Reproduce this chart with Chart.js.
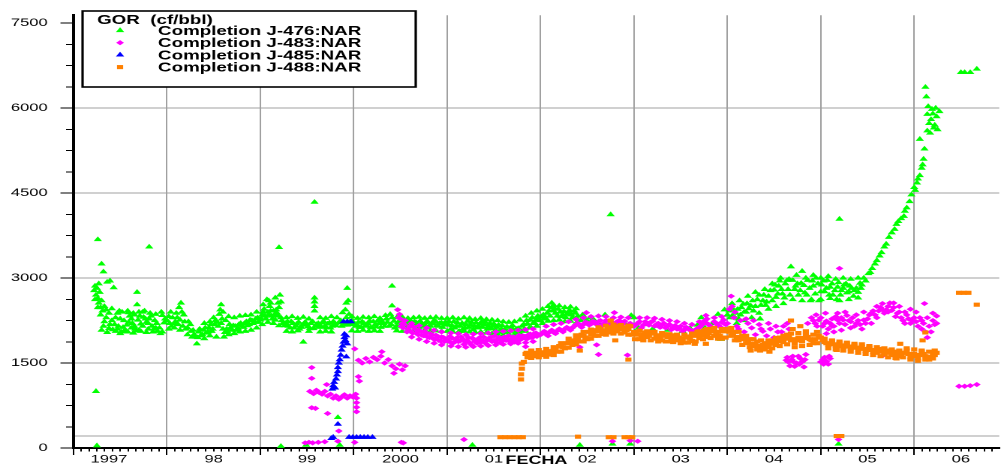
<!DOCTYPE html>
<html>
<head>
<meta charset="utf-8">
<script src="https://cdn.jsdelivr.net/npm/chart.js@4.4.1/dist/chart.umd.min.js"></script>
<style>
  html, body { margin: 0; padding: 0; background: #fff; }
  /* the original plot is stretched 1.5x horizontally */
  #gorChart { display: block; width: 1004px !important; height: 468px !important; }
</style>
</head>
<body>
<canvas id="gorChart" width="669" height="468"></canvas>
<script>
// ejes
const xMin = 1997, xMax = 2006.91;
const yMin = 0, yMax = 7640;
const xLabelText = ['1997', '98', '99', '2000', '01', '02', '03', '04', '05', '06'];
const xLabelPos = [1997.38, 1998.5, 1999.5, 2000.5, 2001.5, 2002.5, 2003.5, 2004.5, 2005.5, 2006.5];
const yLabelVals = [0, 1500, 3000, 4500, 6000, 7500];
const yMinorStep = 375;
const yRefLine = 210;
const legendTitle = 'GOR  (cf/bbl)';
const seriesNames = ['Completion J-476:NAR', 'Completion J-483:NAR', 'Completion J-485:NAR', 'Completion J-488:NAR'];
const seriesColors = ['#00ff00', '#ff00ff', '#0000ff', '#ff8000'];

// [fecha (año decimal), GOR]
const j476 = [
  [1997.24,1000],[1997.25,40],[1997.26,3680],[1997.30,3250],[1997.32,3110],
  [1997.22,2780],[1997.23,2860],[1997.24,2700],[1997.25,2820],[1997.26,2640],[1997.27,2900],[1997.28,2750],[1997.30,2600],
  [1997.36,2930],[1997.39,2950],[1997.43,2830],[1997.23,2620],[1997.27,2560],[1997.29,2350],[1997.26,2480],
  [1997.29,2480],[1997.31,2420],[1997.33,2500],[1997.35,2440],[1997.38,2380],[1997.41,2460],[1997.47,2380],[1997.49,2420],
  [1997.30,2080],[1997.33,2230],[1997.36,2040],[1997.39,2180],[1997.42,2090],[1997.45,2300],[1997.45,2060],[1997.48,2150],
  [1997.51,2050],[1997.54,2250],[1997.55,2080],[1997.57,2170],[1997.59,2390],[1997.60,2330],[1997.62,2120],[1997.63,2200],
  [1997.65,2350],[1997.66,2100],[1997.68,2750],[1997.68,2530],[1997.69,2260],[1997.70,2080],[1997.72,2190],[1997.74,2400],
  [1997.75,2310],[1997.78,2220],[1997.80,2100],[1997.81,2280],[1997.81,3550],[1997.84,2150],[1997.87,2250],[1997.88,2120],
  [1997.90,2060],[1997.93,2020],[1997.95,2340],[1997.97,2210],
  [1997.32,2150],[1997.35,2300],[1997.38,2110],[1997.41,2250],[1997.44,2180],[1997.47,2100],[1997.50,2280],[1997.53,2130],
  [1997.56,2060],[1997.59,2220],[1997.62,2280],[1997.65,2150],[1997.68,2070],[1997.71,2330],[1997.74,2150],[1997.77,2280],
  [1997.80,2200],[1997.83,2330],[1997.86,2100],[1997.89,2200],[1997.92,2120],[1997.95,2050],[1997.98,2280],
  [1997.52,2400],[1997.58,2420],[1997.64,2380],[1997.70,2400],[1997.76,2420],[1997.82,2380],[1997.88,2360],[1997.94,2400],
  [1997.50,2020],[1997.58,2050],[1997.64,2030],[1997.72,2060],[1997.78,2040],[1997.85,2050],
  [1998.00,2250],[1998.03,2200],[1998.06,2300],[1998.09,2230],[1998.12,2180],[1998.13,2480],[1998.15,2560],[1998.16,2400],
  [1998.17,2150],[1998.20,2100],[1998.23,2230],[1998.26,2060],[1998.29,2000],[1998.31,1960],[1998.32,1840],[1998.34,2050],
  [1998.36,1980],[1998.39,2080],[1998.42,2030],[1998.45,2120],[1998.48,2060],[1998.50,2300],[1998.51,2180],[1998.53,1960],
  [1998.54,2220],[1998.55,2150],[1998.56,2360],[1998.57,2440],[1998.58,2530],[1998.59,2280],[1998.60,2400],[1998.61,1960],
  [1998.62,2040],[1998.63,2250],[1998.64,2100],[1998.67,2180],[1998.70,2080],[1998.73,2150],[1998.76,2110],[1998.79,2200],
  [1998.82,2130],[1998.85,2230],[1998.88,2180],[1998.91,2250],[1998.94,2220],[1998.97,2300],
  [1998.02,2320],[1998.05,2150],[1998.08,2200],[1998.11,2300],[1998.14,2260],[1998.19,2230],[1998.22,2120],[1998.25,2180],
  [1998.28,2080],[1998.33,1950],[1998.35,2100],[1998.38,2000],[1998.41,2120],[1998.44,2050],[1998.47,2180],[1998.49,2100],
  [1998.52,2250],[1998.58,2200],[1998.60,2100],[1998.65,2050],[1998.68,2120],[1998.71,2160],[1998.74,2080],[1998.77,2180],
  [1998.80,2150],[1998.83,2200],[1998.86,2160],[1998.89,2260],[1998.92,2200],[1998.95,2280],[1998.98,2220],
  [1998.04,2400],[1998.10,2380],[1998.18,2350],[1998.40,2200],[1998.46,2230],[1998.66,2320],[1998.72,2300],[1998.78,2330],
  [1998.84,2340],[1998.90,2350],[1998.96,2400],
  [1998.02,2100],[1998.08,2120],[1998.14,2080],[1998.22,2000],[1998.27,1960],[1998.40,1930],[1998.46,1980],[1998.66,2000],
  [1998.72,2020],[1998.78,2050],[1998.84,2060],[1998.90,2080],[1998.96,2120],
  [1999.00,2260],[1999.02,2350],[1999.04,2450],[1999.06,2280],[1999.07,2620],[1999.08,2400],[1999.09,2600],[1999.10,2500],
  [1999.12,2330],[1999.14,2420],[1999.16,2260],[1999.16,2650],[1999.18,2380],[1999.20,2480],[1999.20,3540],[1999.21,2700],
  [1999.22,2580],[1999.22,2300],[1999.22,30],[1999.24,2200],[1999.27,2200],[1999.30,2150],[1999.33,2230],[1999.36,2120],
  [1999.39,2190],[1999.42,2100],[1999.45,2170],[1999.46,1870],[1999.48,2220],[1999.49,50],[1999.51,2140],[1999.54,2200],
  [1999.57,2110],[1999.58,2650],[1999.58,2580],[1999.58,2500],[1999.58,2420],[1999.58,4340],[1999.60,2180],[1999.63,2130],
  [1999.66,2210],[1999.69,2150],[1999.72,2190],[1999.75,2120],[1999.78,2230],[1999.81,2160],[1999.82,2300],[1999.83,540],
  [1999.84,2210],[1999.85,50],[1999.87,2150],[1999.88,2390],[1999.90,2200],[1999.91,2440],[1999.92,2560],[1999.93,2820],
  [1999.93,2170],[1999.94,2600],[1999.95,2360],[1999.96,2230],[1999.99,2180],
  [1999.01,2280],[1999.03,2400],[1999.05,2330],[1999.09,2350],[1999.11,2420],[1999.13,2280],[1999.15,2350],[1999.17,2440],
  [1999.19,2330],[1999.23,2250],[1999.26,2160],[1999.29,2230],[1999.32,2120],[1999.35,2200],[1999.38,2150],[1999.41,2220],
  [1999.44,2130],[1999.47,2200],[1999.50,2170],[1999.53,2110],[1999.56,2230],[1999.59,2150],[1999.62,2200],[1999.65,2140],
  [1999.68,2230],[1999.71,2120],[1999.74,2210],[1999.77,2150],[1999.80,2200],[1999.86,2250],[1999.89,2170],[1999.92,2300],
  [1999.95,2200],[1999.98,2250],
  [1999.03,2530],[1999.11,2560],[1999.19,2560],[1999.28,2300],[1999.34,2320],[1999.40,2290],[1999.46,2310],[1999.52,2280],
  [1999.64,2300],[1999.70,2290],[1999.76,2320],[1999.98,2320],
  [1999.02,2180],[1999.08,2220],[1999.14,2200],[1999.20,2160],[1999.28,2060],[1999.34,2050],[1999.40,2070],[1999.52,2060],
  [1999.64,2050],[1999.70,2060],[1999.76,2050],[1999.98,2070],
  [2000.02,2150],[2000.05,2220],[2000.08,2130],[2000.11,2200],[2000.14,2160],[2000.17,2240],[2000.20,2120],[2000.23,2180],
  [2000.26,2250],[2000.29,2130],[2000.32,2200],[2000.34,2340],[2000.35,2280],[2000.38,2150],[2000.39,2360],[2000.41,2300],
  [2000.41,2510],[2000.41,2860],[2000.44,2120],[2000.47,2210],[2000.50,2160],[2000.53,2250],[2000.56,2180],[2000.59,2220],
  [2000.62,2140],[2000.65,2230],[2000.68,2170],[2000.71,2240],[2000.74,2150],[2000.77,2210],[2000.80,2120],[2000.83,2190],
  [2000.86,2250],[2000.89,2160],[2000.92,2200],[2000.95,2130],[2000.98,2220],
  [2000.00,2200],[2000.03,2180],[2000.06,2130],[2000.09,2230],[2000.12,2150],[2000.15,2200],[2000.18,2130],[2000.21,2230],
  [2000.24,2140],[2000.27,2200],[2000.30,2230],[2000.33,2150],[2000.36,2220],[2000.40,2180],[2000.43,2240],[2000.46,2150],
  [2000.49,2230],[2000.52,2140],[2000.55,2210],[2000.58,2150],[2000.61,2240],[2000.64,2160],[2000.67,2210],[2000.70,2130],
  [2000.73,2200],[2000.76,2170],[2000.79,2230],[2000.82,2150],[2000.85,2200],[2000.88,2230],[2000.91,2150],[2000.94,2210],
  [2000.97,2170],
  [2000.04,2290],[2000.10,2310],[2000.16,2300],[2000.22,2320],[2000.28,2290],[2000.46,2300],[2000.52,2310],[2000.58,2290],
  [2000.64,2300],[2000.70,2310],[2000.76,2290],[2000.82,2300],[2000.88,2310],[2000.94,2290],
  [2000.04,2060],[2000.10,2080],[2000.16,2060],[2000.22,2070],[2000.28,2060],[2000.46,2070],[2000.52,2060],[2000.58,2080],
  [2000.64,2060],[2000.70,2070],[2000.76,2080],[2000.82,2060],[2000.88,2070],[2000.94,2060],
  [2001.01,2180],[2001.04,2100],[2001.07,2230],[2001.10,2150],[2001.13,2060],[2001.16,2200],[2001.19,2120],[2001.22,2240],
  [2001.25,2170],[2001.27,50],[2001.28,2090],[2001.31,2210],[2001.34,2140],[2001.37,2230],[2001.40,2180],[2001.43,2100],
  [2001.46,2200],[2001.49,2150],[2001.52,2080],[2001.55,2170],[2001.58,2100],[2001.61,2040],[2001.64,2140],[2001.67,2060],
  [2001.70,2160],[2001.73,2030],[2001.76,2110],[2001.79,2070],[2001.82,2180],[2001.85,2250],[2001.88,2120],[2001.91,2300],
  [2001.94,2200],[2001.97,2330],
  [2001.02,2230],[2001.05,2160],[2001.08,2120],[2001.11,2210],[2001.14,2150],[2001.17,2100],[2001.20,2180],[2001.23,2130],
  [2001.26,2220],[2001.29,2150],[2001.32,2120],[2001.35,2190],[2001.38,2130],[2001.41,2220],[2001.44,2150],[2001.47,2110],
  [2001.50,2190],[2001.53,2130],[2001.56,2050],[2001.59,2160],[2001.62,2090],[2001.65,2050],[2001.68,2130],[2001.71,2080],
  [2001.74,2100],[2001.77,2040],[2001.80,2150],[2001.83,2100],[2001.86,2190],[2001.89,2260],[2001.92,2200],[2001.95,2260],
  [2001.98,2290],
  [2001.00,2290],[2001.06,2300],[2001.12,2280],[2001.18,2300],[2001.24,2290],[2001.30,2270],[2001.36,2290],[2001.42,2270],
  [2001.48,2260],[2001.54,2250],[2001.60,2230],[2001.66,2220],[2001.72,2230],[2001.78,2260],[2001.84,2330],[2001.90,2380],
  [2001.96,2420],
  [2001.00,2060],[2001.06,2050],[2001.12,2040],[2001.18,2060],[2001.24,2050],[2001.30,2040],[2001.36,2050],[2001.42,2030],
  [2001.48,2020],[2001.54,2010],[2001.60,1990],[2001.66,2000],[2001.72,1980],[2001.78,2000],[2001.84,2060],[2001.90,2120],
  [2001.96,2150],
  [2002.00,2250],[2002.03,2350],[2002.06,2280],[2002.09,2420],[2002.12,2480],[2002.12,2560],[2002.16,2380],[2002.19,2450],
  [2002.22,2320],[2002.25,2410],[2002.28,2360],[2002.31,2430],[2002.34,2300],[2002.37,2380],[2002.40,2330],[2002.42,50],
  [2002.43,2250],[2002.47,2300],[2002.51,2220],[2002.56,2280],[2002.62,2200],[2002.69,2350],[2002.75,4120],[2002.75,2250],
  [2002.77,70],[2002.82,2150],[2002.90,2200],[2002.96,70],[2002.97,2340],[2003.00,2300],[2003.01,2050],
  [2002.01,2320],[2002.04,2290],[2002.07,2380],[2002.10,2330],[2002.13,2420],[2002.15,2460],[2002.18,2330],[2002.21,2400],
  [2002.24,2350],[2002.27,2300],[2002.30,2380],[2002.33,2350],[2002.36,2420],[2002.39,2280],[2002.45,2350],[2002.49,2250],
  [2002.53,2300],
  [2002.02,2450],[2002.08,2500],[2002.14,2520],[2002.20,2510],[2002.26,2480],[2002.32,2490],[2002.38,2460],
  [2002.02,2200],[2002.08,2240],[2002.14,2250],[2002.20,2260],[2002.26,2230],[2002.32,2240],[2002.38,2200],
  [2003.05,2120],[2003.12,2180],[2003.20,2100],[2003.28,2150],[2003.36,2080],[2003.44,2130],[2003.52,2060],[2003.60,2110],
  [2003.68,2170],[2003.72,2300],[2003.76,2120],[2003.84,2200],[2003.90,2360],[2003.93,1920],[2003.97,2440],
  [2004.00,2350],[2004.03,2300],[2004.06,2450],[2004.09,2380],[2004.12,2280],[2004.15,2480],[2004.18,2400],[2004.21,2550],
  [2004.25,2510],[2004.28,2420],[2004.32,2620],[2004.35,2280],[2004.36,2520],[2004.39,2700],[2004.42,2580],[2004.46,2780],
  [2004.50,2790],[2004.52,2660],[2004.55,2860],[2004.57,3000],[2004.59,2720],[2004.62,2900],[2004.65,2800],[2004.68,3200],
  [2004.70,2960],[2004.73,2860],[2004.76,2700],[2004.79,2910],[2004.80,3120],[2004.83,2740],[2004.86,2960],[2004.89,2600],
  [2004.92,2860],[2004.95,3000],[2004.98,2600],[2005.01,2880],[2005.04,2760],[2005.07,2960],[2005.10,2840],[2005.13,2700],
  [2005.17,2620],[2005.19,2920],[2005.19,70],[2005.20,4040],[2005.22,2780],[2005.25,2880],[2005.28,2740],[2005.31,2860],
  [2005.35,2680],[2005.38,2820],[2005.42,2910],[2005.44,2880],[2005.46,3000],[2005.48,2950],[2005.51,3080],[2005.53,3100],
  [2004.02,2420],[2004.05,2330],[2004.08,2300],[2004.11,2450],[2004.14,2350],[2004.17,2540],[2004.20,2400],[2004.23,2460],
  [2004.27,2600],[2004.30,2500],[2004.34,2700],[2004.38,2600],[2004.41,2520],[2004.44,2680],[2004.48,2600],[2004.51,2880],
  [2004.54,2720],[2004.58,2800],[2004.61,2650],[2004.64,2960],[2004.67,2700],[2004.72,2800],[2004.75,2900],[2004.78,2780],
  [2004.82,2870],[2004.85,2700],[2004.88,2820],[2004.91,2950],[2004.94,2720],[2004.97,2900],[2005.00,2760],[2005.03,2950],
  [2005.06,2820],[2005.09,2700],[2005.12,2900],[2005.15,2780],[2005.18,2840],[2005.21,2700],[2005.24,2820],[2005.27,2900],
  [2005.30,2760],[2005.33,2820],[2005.36,2780],[2005.40,2750],[2005.43,2820],
  [2004.05,2550],[2004.13,2600],[2004.22,2680],[2004.30,2750],[2004.40,2800],[2004.48,2900],[2004.56,2950],[2004.66,2980],
  [2004.74,3050],[2004.84,3000],[2004.92,3050],[2005.00,3000],[2005.08,3030],[2005.16,2980],[2005.24,3000],[2005.32,2980],
  [2005.40,3000],
  [2004.10,2200],[2004.18,2250],[2004.26,2300],[2004.34,2380],[2004.44,2450],[2004.52,2500],[2004.60,2550],[2004.70,2620],
  [2004.80,2600],[2004.90,2620],[2005.00,2620],[2005.10,2640],[2005.20,2600],[2005.30,2620],[2005.40,2650],
  [2005.55,3170],[2005.58,3250],[2005.60,3310],[2005.63,3390],[2005.65,3450],[2005.68,3550],[2005.70,3600],[2005.73,3720],
  [2005.76,3800],[2005.79,3860],[2005.81,3950],[2005.83,4000],[2005.86,4050],[2005.89,4090],[2005.90,4180],[2005.92,4240],
  [2005.95,4350],[2005.97,4470],[2006.00,4600],[2006.01,4550],[2006.03,4680],[2006.04,4750],[2006.06,4810],[2006.08,4940],
  [2006.09,5000],[2006.10,5100],[2006.11,5280],[2006.06,5450],[2006.14,5600],[2006.17,5560],[2006.21,5650],[2006.16,5730],
  [2006.18,5800],[2006.20,5900],[2006.22,5700],[2006.25,5620],[2006.19,5980],[2006.23,6000],[2006.24,5850],[2006.27,5940],
  [2006.14,5890],[2006.15,6030],[2006.13,6200],[2006.12,6370],
  [2006.50,6630],[2006.54,6630],[2006.60,6630],[2006.67,6690]
];

const j483 = [
  [1999.48,90],[1999.52,100],[1999.56,90],[1999.62,100],[1999.69,110],[1999.83,120],[1999.84,300],[2000.01,100],
  [2000.51,100],[2000.53,90],[2001.18,150],
  [1999.55,1420],[1999.55,1230],[1999.55,710],[1999.59,700],[1999.72,610],
  [1999.53,1000],[1999.57,960],[1999.60,1020],[1999.63,980],[1999.66,950],[1999.69,1000],[1999.71,1120],[1999.72,920],
  [1999.75,950],[1999.78,880],[1999.81,920],[1999.84,860],[1999.87,900],[1999.90,940],[1999.93,880],[1999.96,920],
  [1999.99,900],[2000.02,950],
  [2000.01,1750],[2000.05,1260],[2000.06,1180],[2000.03,880],[2000.03,800],[2000.03,720],[2000.03,640],
  [2000.05,1550],[2000.09,1500],[2000.13,1580],[2000.17,1520],[2000.21,1600],[2000.25,1560],[2000.29,1620],[2000.30,1700],
  [2000.33,1500],[2000.37,1560],[2000.41,1450],[2000.43,1320],[2000.45,1400],[2000.49,1480],[2000.52,1380],[2000.55,1450],
  [2000.47,2440],[2000.49,2360],[2000.50,2280],[2000.52,2200],[2000.53,2120],[2000.55,2250],[2000.58,2100],[2000.61,2060],
  [2000.64,2140],[2000.67,2030],[2000.70,2080],[2000.73,1990],[2000.76,2050],[2000.79,1960],[2000.82,2020],[2000.85,1930],
  [2000.88,1990],[2000.91,1900],[2000.94,1960],[2000.97,1880],
  [2000.48,2300],[2000.51,2150],[2000.54,2180],[2000.57,2050],[2000.60,2150],[2000.63,2030],[2000.66,2100],[2000.69,2000],
  [2000.72,2060],[2000.75,1980],[2000.78,2030],[2000.81,1950],[2000.84,2000],[2000.87,1920],[2000.90,1970],[2000.93,1890],
  [2000.96,1950],[2000.99,1920],
  [2000.62,2200],[2000.70,2160],[2000.78,2120],[2000.86,2080],[2000.94,2050],
  [2000.62,1960],[2000.70,1920],[2000.78,1880],[2000.86,1850],[2000.94,1820],
  [2001.00,1900],[2001.03,1970],[2001.06,1850],[2001.09,1920],[2001.12,1880],[2001.15,1960],[2001.18,1830],[2001.21,1900],
  [2001.24,1860],[2001.26,1820],[2001.27,1940],[2001.30,1880],[2001.33,1920],[2001.36,1870],[2001.39,1960],[2001.42,1900],
  [2001.45,1940],[2001.48,1880],[2001.51,1980],[2001.54,1920],[2001.57,1860],[2001.60,1950],[2001.63,1900],[2001.66,1980],
  [2001.69,1920],[2001.72,1870],[2001.75,1960],[2001.78,1910],[2001.81,1980],[2001.84,1930],[2001.84,1790],[2001.87,2000],
  [2001.90,1950],[2001.93,2020],[2001.96,1970],
  [2001.02,1880],[2001.05,1940],[2001.08,1870],[2001.11,1950],[2001.14,1890],[2001.17,1920],[2001.20,1870],[2001.23,1950],
  [2001.29,1910],[2001.32,1850],[2001.35,1950],[2001.38,1890],[2001.41,1850],[2001.44,1920],[2001.47,1960],[2001.50,1900],
  [2001.53,1860],[2001.56,1950],[2001.59,1890],[2001.62,1960],[2001.65,1910],[2001.68,1870],[2001.71,1960],[2001.74,1910],
  [2001.77,1990],[2001.80,1930],[2001.83,1970],[2001.86,1930],[2001.89,2010],[2001.92,1960],[2001.95,2030],[2001.98,2000],
  [2001.04,2030],[2001.12,2020],[2001.20,2000],[2001.28,2010],[2001.36,2020],[2001.44,2030],[2001.52,2050],[2001.60,2060],
  [2001.68,2070],[2001.76,2080],[2001.84,2090],[2001.92,2100],
  [2001.04,1800],[2001.12,1790],[2001.20,1780],[2001.28,1790],[2001.36,1800],[2001.44,1810],[2001.52,1820],[2001.60,1830],
  [2001.68,1840],[2001.76,1850],[2001.84,1860],[2001.92,1880],
  [2002.00,2000],[2002.04,2060],[2002.08,1980],[2002.12,2080],[2002.16,2020],[2002.20,2100],[2002.24,2050],[2002.28,2130],
  [2002.32,2080],[2002.36,2150],[2002.40,2200],[2002.42,1780],[2002.44,2130],[2002.48,2220],[2002.49,2390],[2002.52,2170],
  [2002.56,2240],[2002.60,2180],[2002.60,1820],[2002.62,1650],[2002.64,2250],[2002.68,2200],[2002.72,2150],[2002.76,2230],
  [2002.77,120],[2002.79,2390],[2002.80,2170],[2002.84,2250],[2002.88,2190],[2002.92,2120],[2002.93,1640],[2002.96,2200],
  [2002.96,130],[2003.04,120],
  [2002.02,2030],[2002.06,2010],[2002.10,2050],[2002.14,2040],[2002.18,2070],[2002.22,2080],[2002.26,2100],[2002.30,2110],
  [2002.34,2120],[2002.38,2180],[2002.42,2160],[2002.46,2180],[2002.50,2210],[2002.54,2190],[2002.58,2220],[2002.62,2230],
  [2002.66,2170],[2002.70,2250],[2002.74,2200],[2002.78,2180],[2002.82,2230],[2002.86,2200],[2002.90,2240],[2002.94,2180],
  [2002.06,2150],[2002.14,2180],[2002.22,2200],[2002.30,2230],[2002.38,2270],[2002.46,2300],[2002.54,2320],[2002.62,2330],
  [2002.70,2320],[2002.78,2300],[2002.86,2310],[2002.94,2300],
  [2003.00,2150],[2003.04,2200],[2003.08,2120],[2003.12,2230],[2003.16,2170],[2003.20,2240],[2003.24,2180],[2003.28,2130],
  [2003.32,2200],[2003.36,2150],[2003.40,2090],[2003.44,2160],[2003.48,2110],[2003.52,2060],[2003.56,2130],[2003.60,2080],
  [2003.64,2040],[2003.68,2110],[2003.72,2160],[2003.76,2250],[2003.77,2340],[2003.80,2180],[2003.84,2120],[2003.88,2200],
  [2003.92,2140],[2003.96,2260],
  [2003.02,2180],[2003.06,2230],[2003.10,2170],[2003.14,2200],[2003.18,2220],[2003.22,2150],[2003.26,2200],[2003.30,2170],
  [2003.34,2120],[2003.38,2180],[2003.42,2130],[2003.46,2100],[2003.50,2150],[2003.54,2090],[2003.58,2110],[2003.62,2060],
  [2003.66,2090],[2003.70,2130],[2003.74,2200],[2003.78,2200],[2003.82,2150],[2003.86,2230],[2003.90,2170],[2003.94,2220],
  [2003.98,2180],
  [2003.06,2300],[2003.14,2300],[2003.22,2290],[2003.30,2270],[2003.38,2250],[2003.46,2230],[2003.54,2200],[2003.62,2180],
  [2003.70,2230],[2003.78,2280],[2003.86,2300],[2003.94,2320],
  [2004.00,2200],[2004.02,2450],[2004.04,2680],[2004.05,2500],[2004.07,2300],[2004.10,2150],[2004.14,2250],[2004.18,2050],
  [2004.22,2200],[2004.26,2120],[2004.30,2000],[2004.34,2180],[2004.38,2060],[2004.42,1980],[2004.46,2100],[2004.50,1950],
  [2004.54,2050],[2004.60,2150],[2004.66,2100],[2004.63,1550],[2004.67,1450],[2004.70,1620],[2004.74,1500],[2004.78,1580],
  [2004.82,1430],[2004.84,1650],[2004.86,2200],[2004.90,2300],[2005.00,1520],[2005.04,1600],[2005.08,1480],[2005.10,1580],
  [2004.65,1520],[2004.69,1560],[2004.72,1440],[2004.76,1620],[2004.80,1520],[2005.02,1560],[2005.06,1530],
  [2004.64,1600],[2004.71,1520],[2004.77,1480],[2004.83,1560],[2005.03,1480],[2005.09,1620],
  [2004.08,2400],[2004.12,2100],[2004.20,2280],[2004.28,2250],[2004.36,2100],[2004.44,2200],[2004.52,2150],[2004.58,2050],
  [2004.64,2200],
  [2004.92,2250],[2004.96,2150],[2005.00,2300],[2005.04,2200],[2005.08,2100],[2005.12,2280],[2005.16,2320],[2005.19,150],
  [2005.20,2200],[2005.20,3170],[2005.24,2260],[2005.28,2340],[2005.32,2230],[2005.36,2150],[2005.40,2250],[2005.44,2100],
  [2005.48,2200],[2005.52,2350],[2005.56,2420],[2005.60,2300],[2005.64,2480],[2005.67,1640],[2005.68,2380],[2005.72,2500],
  [2005.74,2560],[2005.76,2430],[2005.80,2320],[2005.84,2400],[2005.88,2250],[2005.92,2350],[2005.96,2200],[2006.00,2300],
  [2006.04,2150],[2006.08,2250],[2006.11,2550],[2006.12,2050],[2006.14,1950],[2006.16,2150],[2006.20,2250],[2006.24,2330],
  [2004.94,2200],[2004.98,2260],[2005.02,2150],[2005.06,2240],[2005.10,2200],[2005.14,2150],[2005.18,2260],[2005.22,2300],
  [2005.26,2180],[2005.30,2250],[2005.34,2300],[2005.38,2200],[2005.42,2180],[2005.46,2260],[2005.50,2280],[2005.54,2380],
  [2005.58,2350],[2005.62,2420],[2005.66,2440],[2005.70,2440],[2005.78,2480],[2005.82,2380],[2005.86,2300],[2005.90,2400],
  [2005.94,2280],[2005.98,2250],[2006.02,2230],[2006.06,2300],[2006.10,2200],[2006.18,2050],[2006.22,2180],
  [2004.95,2350],[2005.05,2380],[2005.12,2150],[2005.18,2380],[2005.26,2400],[2005.32,2120],[2005.38,2350],[2005.46,2400],
  [2005.54,2200],[2005.60,2500],[2005.66,2550],[2005.72,2400],[2005.78,2560],[2005.84,2500],[2005.90,2200],[2005.96,2450],
  [2006.02,2400],[2006.08,2100],[2006.14,2300],[2006.20,2380],[2006.24,2200],[2005.06,2020],[2005.14,2050],[2005.22,2080],
  [2006.48,1090],[2006.54,1090],[2006.60,1100],[2006.67,1120]
];

const j485 = [
  [1999.76,170],[1999.78,190],[1999.83,420],
  [1999.77,1040],[1999.78,1100],[1999.79,1160],[1999.80,1060],[1999.81,1220],[1999.82,1290],[1999.83,1350],[1999.83,1420],
  [1999.84,1500],[1999.85,1560],[1999.86,1640],[1999.87,1730],[1999.88,1800],[1999.89,1870],[1999.90,1950],[1999.90,2010],
  [1999.91,1900],[1999.92,1980],[1999.93,1840],[1999.92,1610],[1999.89,2230],[1999.93,2230],[1999.97,2230],
  [1999.95,190],[1999.99,190],[2000.03,190],[2000.07,190],[2000.11,190],[2000.15,190],[2000.20,190]
];

const j488 = [
  [2001.57,190],[2001.62,190],[2001.67,190],[2001.72,190],[2001.77,190],[2001.81,190],
  [2002.40,200],[2002.73,190],[2002.78,190],[2002.90,190],[2002.94,190],[2002.98,190],[2005.17,210],[2005.22,210],
  [2001.79,1210],[2001.79,1300],[2001.80,1400],[2001.80,1490],[2001.82,1520],
  [2001.84,1660],[2001.86,1600],[2001.88,1640],[2001.92,1680],[2001.94,1620],[2001.96,1650],[2002.00,1690],[2002.02,1640],
  [2002.04,1670],[2002.08,1710],[2002.10,1650],[2002.12,1700],[2002.16,1740],[2002.18,1700],[2002.20,1800],[2002.24,1780],
  [2002.26,1760],[2002.28,1850],[2002.32,1900],[2002.34,1820],[2002.36,1870],[2002.40,1950],[2002.42,1880],[2002.42,1720],
  [2002.44,2000],[2002.48,1950],[2002.50,1920],[2002.52,2050],[2002.56,2020],[2002.58,1980],[2002.60,2080],[2002.64,2100],
  [2002.66,2010],[2002.68,2060],[2002.72,2130],[2002.74,2040],[2002.75,2250],[2002.76,2090],[2002.80,2150],[2002.80,1900],
  [2002.82,2060],[2002.84,2100],[2002.88,2130],[2002.90,2040],[2002.92,2080],[2002.94,1560],[2002.96,2150],[2002.98,2000],
  [2003.00,2050],[2003.01,1920],
  [2001.85,1680],[2001.90,1660],[2001.98,1670],[2002.06,1690],[2002.14,1720],[2002.22,1790],[2002.30,1860],[2002.38,1920],
  [2002.46,1980],[2002.54,2000],[2002.62,2060],[2002.70,2080],[2002.78,2110],[2002.86,2110],[2002.94,2100],
  [2001.90,1720],[2001.98,1730],[2002.06,1750],[2002.14,1780],[2002.22,1850],[2002.30,1930],[2002.38,1990],[2002.46,2050],
  [2002.54,2090],[2002.62,2130],[2002.70,2160],[2002.78,2180],[2002.86,2170],[2002.94,2160],
  [2001.90,1590],[2001.98,1600],[2002.06,1610],[2002.14,1640],[2002.22,1700],[2002.30,1770],[2002.38,1830],[2002.46,1880],
  [2002.54,1930],[2002.62,1980],[2002.70,2000],[2002.78,2020],[2002.86,2020],[2002.94,2000],
  [2003.04,2000],[2003.06,1920],[2003.08,1950],[2003.12,2040],[2003.14,1960],[2003.16,1980],[2003.20,2050],[2003.22,1930],
  [2003.24,1990],[2003.28,1940],[2003.30,1900],[2003.32,2010],[2003.36,1960],[2003.38,1880],[2003.40,1930],[2003.44,1990],
  [2003.46,1900],[2003.48,1950],[2003.52,1900],[2003.54,1860],[2003.56,1970],[2003.60,1930],[2003.62,1890],[2003.64,1980],
  [2003.65,1840],[2003.68,2050],[2003.70,1940],[2003.72,1990],[2003.76,2080],[2003.77,1840],[2003.78,1960],[2003.80,2020],
  [2003.84,2100],[2003.86,1980],[2003.88,2030],[2003.92,1980],[2003.94,1930],[2003.96,2060],
  [2003.02,2020],[2003.10,2000],[2003.18,2020],[2003.26,1970],[2003.34,1980],[2003.42,1960],[2003.50,1930],[2003.58,1950],
  [2003.66,1990],[2003.74,2030],[2003.82,2060],[2003.90,2050],[2003.98,2080],
  [2003.06,2070],[2003.14,2060],[2003.22,2050],[2003.30,2030],[2003.38,2010],[2003.46,2000],[2003.54,2000],[2003.62,2020],
  [2003.70,2060],[2003.78,2100],[2003.86,2120],[2003.94,2100],
  [2003.10,1900],[2003.18,1900],[2003.26,1880],[2003.34,1880],[2003.42,1870],[2003.50,1850],[2003.58,1860],[2003.66,1880],
  [2003.74,1920],[2003.82,1940],[2003.90,1930],[2003.98,1950],
  [2004.00,2100],[2004.04,1980],[2004.08,2050],[2004.12,1900],[2004.16,1980],[2004.20,1850],[2004.24,1920],[2004.25,1720],
  [2004.28,1800],[2004.32,1880],[2004.35,1720],[2004.36,1760],[2004.40,1850],[2004.44,1780],[2004.45,1700],[2004.48,1900],
  [2004.52,1820],[2004.56,1950],[2004.60,1870],[2004.64,2000],[2004.68,1900],[2004.68,2250],[2004.70,2100],[2004.72,1850],
  [2004.76,1950],[2004.78,2150],[2004.80,1880],[2004.84,2000],[2004.88,1920],[2004.92,1850],[2004.96,2050],
  [2004.02,2050],[2004.06,2000],[2004.10,1960],[2004.14,1940],[2004.18,1920],[2004.22,1880],[2004.26,1840],[2004.30,1840],
  [2004.34,1800],[2004.38,1820],[2004.42,1800],[2004.46,1840],[2004.50,1860],[2004.54,1880],[2004.58,1900],[2004.62,1930],
  [2004.66,1950],[2004.70,1920],[2004.74,1900],[2004.78,1920],[2004.82,1940],[2004.86,1960],[2004.90,1900],[2004.94,1920],
  [2004.98,1980],
  [2004.04,2120],[2004.12,2050],[2004.20,1980],[2004.28,1920],[2004.36,1900],[2004.44,1900],[2004.52,1940],[2004.60,1980],
  [2004.68,2020],[2004.76,2030],[2004.84,2060],[2004.92,2000],
  [2004.08,1900],[2004.16,1820],[2004.24,1780],[2004.32,1740],[2004.40,1740],[2004.48,1760],[2004.56,1800],[2004.64,1830],
  [2004.72,1780],[2004.80,1800],[2004.88,1820],[2004.96,1850],
  [2005.00,1950],[2005.04,1870],[2005.08,1820],[2005.12,1880],[2005.16,1800],[2005.17,1730],[2005.20,1850],[2005.24,1780],
  [2005.28,1830],[2005.32,1760],[2005.36,1810],[2005.40,1740],[2005.44,1790],[2005.48,1720],[2005.52,1770],[2005.56,1700],
  [2005.60,1680],[2005.64,1750],[2005.68,1650],[2005.72,1720],[2005.76,1640],[2005.80,1700],[2005.81,1580],[2005.84,1620],
  [2005.85,1840],[2005.88,1680],[2005.92,1720],[2005.96,1600],[2006.00,1660],[2006.04,1580],[2006.08,1700],[2006.09,1900],
  [2006.12,1620],[2006.12,2040],[2006.16,1560],[2006.20,1650],[2006.24,1680],
  [2005.02,1900],[2005.06,1850],[2005.10,1840],[2005.14,1830],[2005.18,1820],[2005.22,1800],[2005.26,1810],[2005.30,1790],
  [2005.34,1780],[2005.38,1770],[2005.42,1760],[2005.46,1750],[2005.50,1740],[2005.54,1730],[2005.58,1720],[2005.62,1710],
  [2005.66,1700],[2005.70,1690],[2005.74,1680],[2005.78,1670],[2005.82,1660],[2005.86,1650],[2005.90,1680],[2005.94,1660],
  [2005.98,1640],[2006.02,1620],[2006.06,1640],[2006.10,1660],[2006.14,1600],[2006.18,1610],[2006.22,1640],
  [2005.04,1930],[2005.12,1900],[2005.20,1880],[2005.28,1860],[2005.36,1840],[2005.44,1830],[2005.52,1800],[2005.60,1780],
  [2005.68,1760],[2005.76,1740],[2005.84,1720],[2005.92,1760],[2006.00,1740],[2006.08,1720],[2006.16,1700],[2006.22,1720],
  [2005.08,1760],[2005.16,1740],[2005.24,1720],[2005.32,1700],[2005.40,1680],[2005.48,1660],[2005.56,1640],[2005.64,1620],
  [2005.72,1600],[2005.80,1590],[2005.88,1600],[2005.96,1560],[2006.04,1540],[2006.12,1560],[2006.20,1580],
  [2006.48,2740],[2006.53,2740],[2006.58,2740],[2006.67,2530]
];

// leyenda dibujada a mano, como en el original
const legendBox = {
  id: 'legendBox',
  afterDraw(chart) {
    const ctx = chart.ctx;
    ctx.save();
    ctx.fillStyle = '#fff';
    ctx.fillRect(55, 11, 222, 76);
    ctx.lineWidth = 1.6;
    ctx.strokeStyle = '#000';
    ctx.strokeRect(55, 11, 222, 76);
    ctx.font = 'bold 12.5px "Liberation Sans", Arial, sans-serif';
    ctx.textBaseline = 'middle';
    ctx.textAlign = 'left';
    ctx.fillStyle = '#000';
    ctx.fillText(legendTitle, 64.7, 20.5);
    chart.data.datasets.forEach((ds, i) => {
      const y = 31.5 + i * 12.2;
      ctx.fillStyle = ds.backgroundColor;
      Chart.helpers.drawPoint(ctx, { pointStyle: ds.pointStyle, radius: ds.pointRadius, rotation: 0, borderWidth: 0 }, 80, y - 1);
      ctx.fillStyle = '#000';
      ctx.fillText(ds.label, 105.3, y);
    });
    ctx.restore();
  }
};

const toPoints = arr => arr.map(([x, y]) => ({ x, y }));
const styles = [
  { pointStyle: 'triangle', pointRadius: 3.2, order: 4 },
  { pointStyle: 'rectRot', pointRadius: 2.6, order: 3 },
  { pointStyle: 'triangle', pointRadius: 3.2, order: 2 },
  { pointStyle: 'rect', pointRadius: 2.9, order: 1 }
];
const datasets = [j476, j483, j485, j488].map((arr, i) => ({
  label: seriesNames[i],
  data: toPoints(arr),
  backgroundColor: seriesColors[i],
  borderColor: seriesColors[i],
  borderWidth: 0,
  pointBorderWidth: 0,
  pointStyle: styles[i].pointStyle,
  pointRadius: styles[i].pointRadius,
  pointHoverRadius: styles[i].pointRadius,
  order: styles[i].order
}));

const clear = 'rgba(0,0,0,0)';
const gridGrey = '#a0a0a0';

Chart.defaults.font.family = '"Liberation Sans", Arial, sans-serif';
Chart.defaults.color = '#000';

new Chart(document.getElementById('gorChart'), {
  type: 'scatter',
  data: { datasets },
  options: {
    responsive: false,
    devicePixelRatio: 2,
    animation: false,
    events: [],
    layout: { padding: { top: 7, right: 0, bottom: 0, left: 0 } },
    plugins: { legend: { display: false }, tooltip: { enabled: false } },
    scales: {
      x: {
        type: 'linear',
        min: xMin,
        max: xMax,
        bounds: 'data',
        afterBuildTicks: scale => {
          const t = [];
          for (let yr = 1997; yr <= 2006; yr++) {
            for (let m = 0; m < 12; m++) {
              const v = yr + m / 12;
              if (v <= xMax) t.push({ value: v, kind: m === 0 ? 'year' : 'month' });
            }
          }
          xLabelPos.forEach((p, i) => t.push({ value: p, kind: 'label', text: xLabelText[i] }));
          t.sort((a, b) => a.value - b.value);
          scale.ticks = t;
        },
        afterFit: scale => { scale.height = 20; },
        ticks: {
          autoSkip: false,
          maxRotation: 0,
          padding: -2,
          font: { size: 11 },
          callback: (v, i, ticks) => ticks[i].kind === 'label' ? ticks[i].text : ''
        },
        grid: {
          color: c => (c.tick && c.tick.kind === 'year' && c.tick.value > xMin) ? gridGrey : clear,
          lineWidth: 1,
          tickLength: 7,
          tickWidth: 1,
          tickColor: c => (c.tick && c.tick.kind === 'label') ? clear : '#000',
          tickBorderDash: c => (c.tick && c.tick.kind === 'month') ? [2.5, 50] : []
        },
        border: { display: true, color: '#000', width: 2 },
        title: { display: true, text: 'FECHA', color: '#000', font: { size: 12, weight: 'bold' }, padding: 0 }
      },
      y: {
        type: 'linear',
        min: yMin,
        max: yMax,
        bounds: 'data',
        afterBuildTicks: scale => {
          const t = [];
          for (let v = 0; v <= 7500; v += yMinorStep) {
            t.push({ value: v, kind: yLabelVals.includes(v) ? 'major' : 'minor' });
          }
          t.push({ value: yRefLine, kind: 'line' });
          t.sort((a, b) => a.value - b.value);
          scale.ticks = t;
        },
        afterFit: scale => { scale.width = 49; },
        ticks: {
          padding: 8.6,
          font: { size: 11 },
          callback: (v, i, ticks) => ticks[i].kind === 'major' ? String(v) : ''
        },
        grid: {
          color: c => {
            if (!c.tick) return clear;
            if (c.tick.kind === 'line') return gridGrey;
            if (c.tick.kind === 'major' && c.tick.value > 0 && c.tick.value < 7500) return gridGrey;
            return clear;
          },
          lineWidth: 1,
          tickLength: 8.7,
          tickWidth: 1,
          tickColor: c => (c.tick && c.tick.kind === 'line') ? clear : '#000',
          tickBorderDash: c => (c.tick && c.tick.kind === 'minor') ? [0, 3.7, 10] : []
        },
        border: { display: true, color: '#000', width: 2 }
      }
    }
  },
  plugins: [legendBox]
});
</script>
</body>
</html>
